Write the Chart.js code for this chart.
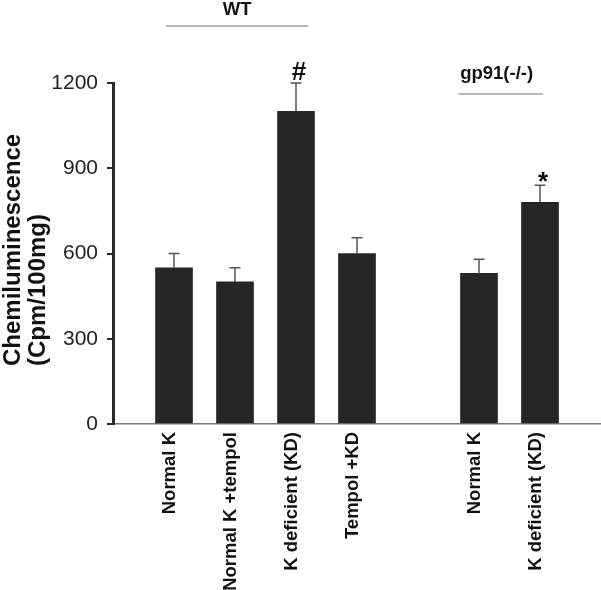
<!DOCTYPE html>
<html>
<head>
<meta charset="utf-8">
<script src="https://cdn.jsdelivr.net/npm/chart.js@4/dist/chart.umd.min.js"></script>
<style>
  html, body { margin: 0; padding: 0; background: #ffffff; }
  canvas { display: block; }
</style>
</head>
<body>
<canvas id="c" width="601" height="590"></canvas>
<script>
// ---- data ----
const categories = ['', 'Normal K', 'Normal K +tempol', 'K deficient (KD)', 'Tempol +KD', '', 'Normal K', 'K deficient (KD)', ''];
const means      = [null, 550, 500, 1100, 600, null, 530, 780, null];
const errors     = [null, 50, 50, 100, 55, null, 50, 60, null];
const marks      = [null, null, null, '#', null, null, null, '*', null];
const yTicks     = [0, 300, 600, 900, 1200];
const groupNames = ['WT', 'gp91(-/-)'];
const groupSpans = [[0.87, 3.2], [5.66, 7.05]]; // in category units
const yTitle     = ['Chemiluminescence', '(Cpm/100mg)'];

const FAMILY = '"Liberation Sans", Arial, Helvetica, sans-serif';

const overlay = {
  id: 'overlay',
  afterDatasetsDraw(chart) {
    const ctx = chart.ctx;
    const x = chart.scales.x, y = chart.scales.y;
    const meta = chart.getDatasetMeta(0);
    ctx.save();
    // error bars
    ctx.strokeStyle = '#555555';
    ctx.lineWidth = 1.5;
    means.forEach((m, i) => {
      if (m === null) return;
      const cx = meta.data[i].x;
      const yb = y.getPixelForValue(m);
      const yt = y.getPixelForValue(m + errors[i]);
      ctx.beginPath();
      ctx.moveTo(cx, yb); ctx.lineTo(cx, yt);
      ctx.moveTo(cx - 5.5, yt); ctx.lineTo(cx + 5.5, yt);
      ctx.stroke();
    });
    // significance marks
    ctx.fillStyle = '#111111';
    ctx.font = 'bold 26px ' + FAMILY;
    ctx.textAlign = 'center';
    ctx.textBaseline = 'alphabetic';
    marks.forEach((s, i) => {
      if (!s) return;
      const cx = meta.data[i].x + 3;
      const yt = y.getPixelForValue(means[i] + errors[i]);
      const mt = ctx.measureText(s);
      ctx.fillText(s, cx, yt - 3 - mt.actualBoundingBoxDescent);
    });
    // group labels
    const lineY = [26, 94];
    const textY = [15, 79];
    const textDx = [0, -4];
    groupNames.forEach((g, k) => {
      const x0 = x.getPixelForValue(groupSpans[k][0]);
      const x1 = x.getPixelForValue(groupSpans[k][1]);
      ctx.strokeStyle = '#777777';
      ctx.lineWidth = 1.2;
      ctx.beginPath();
      ctx.moveTo(x0, lineY[k]); ctx.lineTo(x1, lineY[k]);
      ctx.stroke();
      ctx.fillStyle = '#111111';
      ctx.font = 'bold 18.5px ' + FAMILY;
      ctx.textAlign = 'center';
      ctx.fillText(g, (x0 + x1) / 2 + textDx[k], textY[k]);
    });
    // y-axis title (two lines, start-aligned at the bottom)
    ctx.font = 'bold 24px ' + FAMILY;
    ctx.textAlign = 'left';
    const baseX = [20, 45];
    yTitle.forEach((t, k) => {
      ctx.save();
      ctx.translate(baseX[k], 366);
      ctx.rotate(-Math.PI / 2);
      ctx.fillText(t, 0, 0);
      ctx.restore();
    });
    ctx.restore();
  }
};

new Chart(document.getElementById('c'), {
  type: 'bar',
  data: {
    labels: categories,
    datasets: [{
      data: means,
      backgroundColor: '#262626',
      borderWidth: 0,
      barThickness: 37
    }]
  },
  options: {
    responsive: false,
    animation: false,
    layout: { padding: { top: 83, left: 0, right: 0, bottom: 0 } },
    plugins: { legend: { display: false }, tooltip: { enabled: false } },
    scales: {
      x: {
        type: 'category',
        offset: false,
        grid: { display: false },
        border: { display: true, color: '#7a7a7a', width: 1.5 },
        ticks: {
          autoSkip: false, maxRotation: 90, minRotation: 90, padding: 0, labelOffset: -4,
          color: '#111111', font: { family: FAMILY, size: 18.5, weight: 'bold' }
        },
        afterFit(s) { s.height = 166; s.paddingLeft = 0; s.paddingRight = 0; }
      },
      y: {
        min: 0, max: 1200,
        afterBuildTicks(s) { s.ticks = yTicks.map(v => ({ value: v })); },
        grid: { display: true, drawOnChartArea: false, drawTicks: true, tickLength: 6, color: '#2a2a2a', lineWidth: 2 },
        border: { display: true, color: '#2a2a2a', width: 3 },
        ticks: { padding: 9, color: '#222222', font: { family: FAMILY, size: 21 }, callback: v => String(v) },
        afterFit(s) { s.width = 113; }
      }
    }
  },
  plugins: [overlay]
});
</script>
</body>
</html>
